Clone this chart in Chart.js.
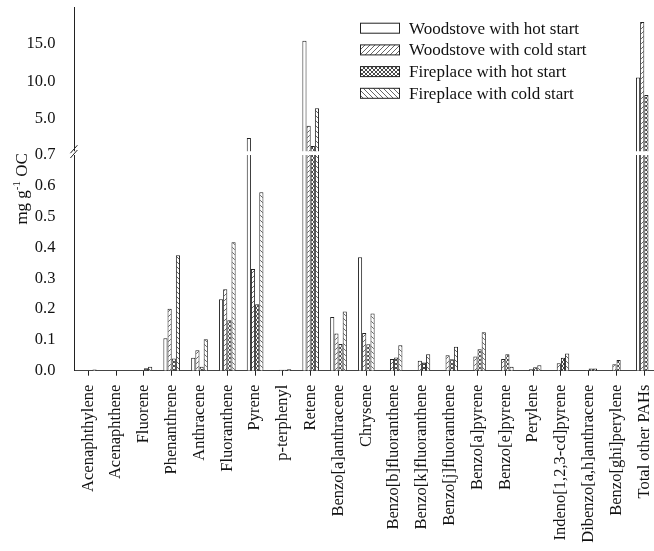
<!DOCTYPE html>
<html>
<head>
<meta charset="utf-8">
<script src="https://cdn.jsdelivr.net/npm/chart.js@4.4.1/dist/chart.umd.min.js"></script>
<style>
  html, body { margin: 0; padding: 0; overflow: hidden; background: #fff; }
  #wrap { width: 660px; height: 551px; }
</style>
</head>
<body>
<div id="wrap"><canvas id="pah_chart"></canvas></div>
<script>
// categories and values (mg g-1 OC)
var categories = ['Acenaphthylene', 'Acenaphthene', 'Fluorene', 'Phenanthrene', 'Anthracene',
  'Fluoranthene', 'Pyrene', 'p-terphenyl', 'Retene', 'Benzo[a]anthracene', 'Chrysene',
  'Benzo[b]fluoranthene', 'Benzo[k]fluoranthene', 'Benzo[j]fluoranthene', 'Benzo[a]pyrene',
  'Benzo[e]pyrene', 'Perylene', 'Indeno[1,2,3-cd]pyrene', 'Dibenzo[a,h]anthracene',
  'Benzo[ghi]perylene', 'Total other PAHs'];
var woodHot  = [0, 0, 0, 0.105, 0.042, 0.232, 2.45, null, 15.4, 0.174, 0.368, null, null, null, null, null, null, null, null, null, 10.5];
var woodCold = [0, 0, 0, 0.201, 0.066, 0.264, 0.330, 0.003, 4.1, 0.121, 0.122, 0.038, 0.032, 0.050, 0.046, 0.038, 0.005, 0.024, 0.002, 0.021, 17.9];
var fireHot  = [0, 0, 0.008, 0.040, 0.013, 0.164, 0.216, 0.003, 1.4, 0.087, 0.086, 0.043, 0.027, 0.037, 0.070, 0.053, 0.011, 0.042, 0.007, 0.035, 8.2];
var fireCold = [0.004, 0, 0.013, 0.375, 0.102, 0.417, 0.579, 0.005, 6.42, 0.192, 0.186, 0.083, 0.053, 0.078, 0.125, 0.013, 0.018, 0.056, 0.007, null, null];
var seriesNames = ['Woodstove with hot start', 'Woodstove with cold start', 'Fireplace with hot start', 'Fireplace with cold start'];
var yTickValues = [0, 0.1, 0.2, 0.3, 0.4, 0.5, 0.6, 0.7, 5, 10, 15];
var yBreak = 0.7;
var yMax = 19.9;

// share of axis height: lower part, white gap, rest is upper part
var LOW = 0.593, GAP = 0.0105;
var SERIF = "'Liberation Serif', 'DejaVu Serif', serif";

// y scale with a break at 0.7
class BrokenLinear extends Chart.LinearScale {
  getPixelForValue(value) {
    var h = this.bottom - this.top;
    if (value <= yBreak) return this.bottom - (value / yBreak) * h * LOW;
    return this.bottom - h * (LOW + GAP) - (value - yBreak) / (this.max - yBreak) * h * (1 - LOW - GAP);
  }
  getValueForPixel(pixel) {
    var h = this.bottom - this.top;
    var f = (this.bottom - pixel) / h;
    if (f <= LOW) return f / LOW * yBreak;
    return yBreak + (f - LOW - GAP) / (1 - LOW - GAP) * (this.max - yBreak);
  }
}
BrokenLinear.id = 'brokenLinear';
BrokenLinear.defaults = Chart.LinearScale.defaults;
Chart.register(BrokenLinear);

function hatch(kind) {
  var s = kind == 'cross' ? 4 : 5;
  var c = document.createElement('canvas');
  c.width = s; c.height = s;
  var g = c.getContext('2d');
  g.fillStyle = '#fff';
  g.fillRect(0, 0, s, s);
  g.strokeStyle = kind == 'cross' ? '#333' : '#555';
  g.lineWidth = 0.9;
  g.beginPath();
  if (kind == 'fwd' || kind == 'cross') {
    g.moveTo(-1, s + 1); g.lineTo(s + 1, -1);
    g.moveTo(-1, 1); g.lineTo(1, -1);
    g.moveTo(s - 1, s + 1); g.lineTo(s + 1, s - 1);
  }
  if (kind == 'back' || kind == 'cross') {
    g.moveTo(-1, -1); g.lineTo(s + 1, s + 1);
    g.moveTo(s - 1, -1); g.lineTo(s + 1, 1);
    g.moveTo(-1, s - 1); g.lineTo(1, s + 1);
  }
  g.stroke();
  return g.createPattern(c, 'repeat');
}

var fills = ['#fff', hatch('fwd'), hatch('cross'), hatch('back')];

var breakPlugin = {
  id: 'axisBreak',
  afterDatasetsDraw: function (chart) {
    var ctx = chart.ctx, y = chart.scales.y, a = chart.chartArea;
    var h = y.bottom - y.top;
    var yLow = y.getPixelForValue(yBreak);
    var yUp = y.bottom - h * (LOW + GAP);
    ctx.save();
    ctx.fillStyle = '#fff';
    ctx.fillRect(a.left - 6, yUp, a.right - a.left + 12, yLow - yUp);
    ctx.strokeStyle = '#222';
    ctx.lineWidth = 1;
    ctx.beginPath();
    ctx.moveTo(a.left - 4, yUp + 2); ctx.lineTo(a.left + 3, yUp - 6);
    ctx.moveTo(a.left - 4, yLow + 3); ctx.lineTo(a.left + 3, yLow - 5);
    ctx.stroke();
    ctx.restore();
  }
};

var legendPlugin = {
  id: 'hatchLegend',
  afterDraw: function (chart) {
    var ctx = chart.ctx;
    ctx.save();
    ctx.font = '17px ' + SERIF;
    ctx.textBaseline = 'middle';
    ctx.textAlign = 'left';
    chart.data.datasets.forEach(function (ds, i) {
      var cy = 28.2 + i * 21.7;
      ctx.fillStyle = ds.backgroundColor;
      ctx.fillRect(360, cy - 5, 39, 10);
      ctx.strokeStyle = '#222';
      ctx.lineWidth = 1;
      ctx.strokeRect(360.5, cy - 5, 39, 10);
      ctx.fillStyle = '#111';
      ctx.fillText(ds.label, 409, cy + 1);
    });
    ctx.restore();
  }
};

var yTitlePlugin = {
  id: 'yTitle',
  afterDraw: function (chart) {
    var ctx = chart.ctx, a = chart.chartArea;
    var big = '17px ' + SERIF, small = '11px ' + SERIF;
    var parts = [['mg g', big, 0], ['-1', small, -7], [' OC', big, 0]];
    ctx.save();
    var total = 0;
    parts.forEach(function (p) { ctx.font = p[1]; total += ctx.measureText(p[0]).width; });
    ctx.translate(27, (a.top + a.bottom) / 2);
    ctx.rotate(-Math.PI / 2);
    ctx.fillStyle = '#111';
    ctx.textBaseline = 'alphabetic';
    var x = -total / 2;
    parts.forEach(function (p) {
      ctx.font = p[1];
      ctx.fillText(p[0], x, p[2]);
      x += ctx.measureText(p[0]).width;
    });
    ctx.restore();
  }
};

var allSeries = [woodHot, woodCold, fireHot, fireCold];

new Chart(document.getElementById('pah_chart').getContext('2d'), {
  type: 'bar',
  data: {
    labels: categories,
    datasets: allSeries.map(function (vals, i) {
      return {
        label: seriesNames[i],
        data: vals,
        backgroundColor: fills[i],
        borderColor: '#222',
        borderWidth: 1,
        borderSkipped: 'start',
        categoryPercentage: 0.6,
        barPercentage: 1.0
      };
    })
  },
  options: {
    responsive: true,
    maintainAspectRatio: false,
    animation: false,
    layout: { padding: { top: 7, right: 1.8, left: 0, bottom: 0 } },
    plugins: { legend: { display: false }, tooltip: { enabled: false } },
    scales: {
      x: {
        grid: { display: true, drawOnChartArea: false, drawTicks: true, tickLength: 5, offset: false, color: '#222' },
        border: { display: true, color: '#444', width: 1 },
        ticks: {
          minRotation: 90, maxRotation: 90, autoSkip: false, padding: 9,
          color: '#111', font: { family: SERIF, size: 16.5 }
        },
        afterFit: function (s) { s.height = 180.3; s.paddingLeft = 0; s.paddingRight = 0; }
      },
      y: {
        type: 'brokenLinear',
        min: 0,
        max: yMax,
        grid: { display: false },
        border: { display: true, color: '#222', width: 1 },
        ticks: {
          padding: 11, color: '#111', font: { family: SERIF, size: 16.5 },
          callback: function (v) { return v.toFixed(1); }
        },
        afterBuildTicks: function (s) { s.ticks = yTickValues.map(function (v) { return { value: v }; }); },
        afterFit: function (s) { s.width = 74.4; s.paddingTop = 0; s.paddingBottom = 0; }
      }
    }
  },
  plugins: [breakPlugin, legendPlugin, yTitlePlugin]
});
</script>
</body>
</html>
